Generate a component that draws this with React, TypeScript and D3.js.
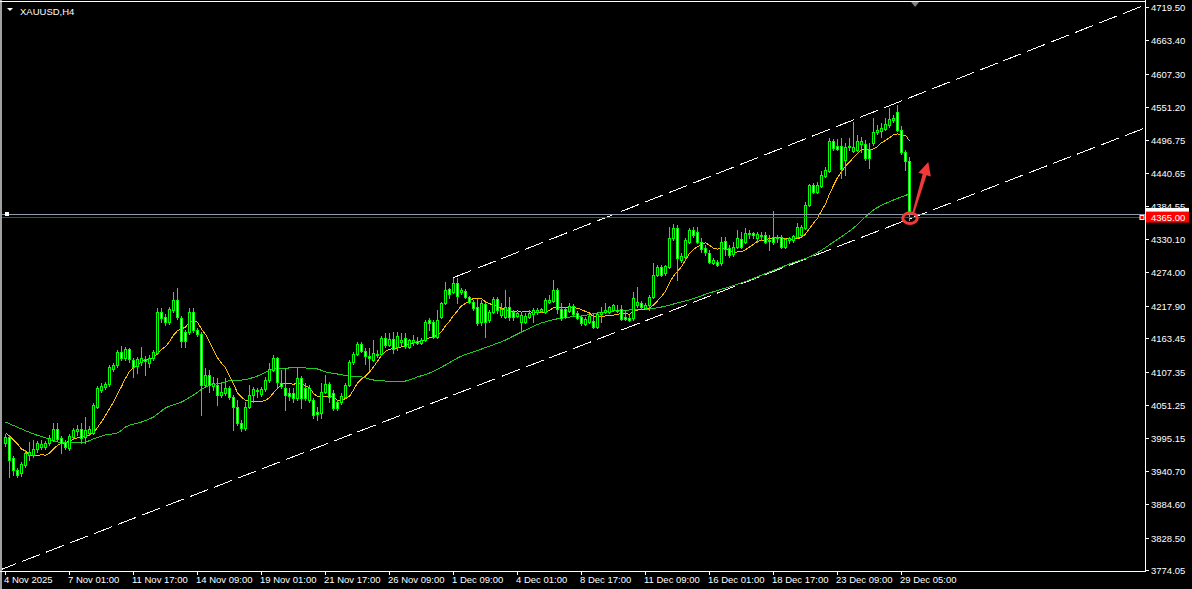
import React from 'react';
import * as d3 from 'd3';

// ---------- DATA (XAUUSD H4) ----------
const opens = [3987,3997,3962,3942,3937,3950,3967,3967,3977,3981,3981,3987,3992,4011,3996,3989,3979,3997,4008,4011,3997,4004,4004,4048,4076,4081,4086,4112,4118,4140,4130,4145,4127,4117,4123,4128,4122,4130,4138,4207,4199,4191,4211,4227,4197,4174,4174,4207,4177,4170,4085,4102,4083,4085,4068,4071,4080,4065,4048,4021,4012,4048,4068,4075,4070,4078,4093,4110,4130,4088,4080,4071,4071,4063,4096,4080,4059,4059,4039,4038,4073,4086,4071,4056,4056,4065,4085,4123,4137,4154,4142,4133,4127,4135,4137,4164,4152,4162,4149,4157,4164,4149,4157,4159,4155,4160,4194,4191,4165,4199,4222,4246,4241,4256,4241,4243,4233,4224,4216,4191,4221,4194,4207,4229,4202,4199,4216,4207,4201,4191,4191,4199,4204,4207,4209,4207,4224,4226,4244,4212,4212,4209,4217,4206,4199,4187,4191,4192,4182,4204,4207,4207,4211,4209,4212,4199,4197,4197,4219,4222,4214,4219,4233,4269,4283,4273,4283,4332,4348,4295,4300,4325,4345,4342,4325,4315,4306,4290,4291,4290,4327,4315,4305,4316,4330,4325,4338,4340,4332,4335,4337,4328,4333,4333,4333,4316,4328,4328,4333,4337,4348,4387,4421,4409,4419,4436,4444,4495,4486,4486,4463,4484,4478,4479,4490,4490,4481,4491,4510,4511,4515,4521,4530,4543,4513,4476,4461];
const highs = [4002,4001,3966,3945,3955,3976,3989,3992,3991,3992,3991,4001,4021,4021,3999,3992,4002,4012,4018,4021,4031,4016,4054,4083,4088,4090,4118,4122,4143,4150,4149,4147,4130,4132,4149,4133,4135,4143,4214,4214,4204,4216,4241,4248,4201,4177,4214,4214,4180,4174,4113,4110,4098,4096,4088,4096,4083,4068,4059,4026,4056,4085,4081,4080,4081,4098,4122,4135,4132,4110,4113,4080,4080,4113,4100,4088,4085,4063,4048,4088,4102,4090,4076,4059,4071,4088,4127,4140,4157,4157,4147,4147,4160,4143,4167,4172,4172,4174,4174,4172,4172,4162,4169,4165,4164,4194,4197,4194,4211,4224,4258,4248,4264,4264,4248,4246,4234,4227,4229,4227,4224,4211,4233,4233,4222,4244,4233,4211,4207,4206,4206,4211,4214,4214,4214,4231,4236,4261,4248,4222,4216,4222,4221,4209,4201,4199,4204,4204,4206,4216,4222,4217,4221,4219,4219,4211,4202,4241,4249,4226,4222,4236,4290,4286,4286,4286,4350,4355,4353,4306,4332,4348,4350,4350,4332,4320,4311,4298,4295,4333,4333,4320,4325,4345,4342,4348,4345,4342,4342,4342,4342,4337,4377,4337,4337,4332,4333,4337,4357,4353,4392,4422,4424,4426,4444,4451,4500,4498,4498,4500,4491,4500,4526,4505,4501,4496,4491,4533,4521,4525,4533,4550,4538,4555,4520,4479,4468];
const lows = [3982,3930,3934,3930,3932,3947,3959,3964,3972,3977,3977,3984,3991,3991,3971,3977,3976,3994,4001,3987,3987,4001,4002,4046,4073,4078,4083,4108,4115,4127,4127,4123,4098,4105,4118,4102,4115,4127,4137,4191,4186,4187,4207,4196,4149,4149,4170,4174,4167,4034,4081,4073,4076,4051,4065,4068,4061,4009,4018,4008,4009,4046,4056,4065,4066,4075,4090,4108,4081,4080,4043,4059,4056,4059,4046,4059,4056,4029,4026,4029,4071,4056,4043,4043,4053,4063,4083,4120,4135,4140,4120,4110,4125,4132,4135,4149,4150,4138,4143,4152,4147,4147,4152,4154,4154,4159,4177,4164,4164,4197,4221,4231,4239,4222,4238,4231,4222,4211,4186,4186,4165,4191,4206,4206,4199,4197,4194,4194,4199,4177,4189,4197,4191,4204,4207,4206,4222,4224,4206,4194,4197,4207,4201,4196,4186,4186,4189,4180,4180,4191,4206,4206,4209,4207,4194,4194,4192,4194,4216,4212,4212,4211,4231,4268,4268,4269,4281,4328,4261,4291,4295,4323,4333,4323,4308,4303,4290,4288,4285,4286,4303,4300,4301,4315,4315,4323,4332,4332,4325,4328,4323,4311,4322,4325,4315,4315,4323,4325,4332,4335,4347,4385,4407,4407,4417,4434,4442,4479,4479,4432,4437,4479,4476,4478,4476,4463,4449,4488,4506,4501,4513,4518,4526,4511,4473,4446,4362];
const closes = [3997,3959,3942,3934,3952,3971,3972,3977,3987,3986,3987,3996,4011,3994,3987,3981,3999,4009,4011,3996,4009,4011,4051,4080,4083,4086,4115,4118,4140,4130,4145,4128,4115,4128,4130,4125,4130,4140,4207,4197,4191,4212,4227,4199,4159,4159,4207,4177,4170,4085,4102,4085,4088,4068,4073,4080,4065,4048,4021,4012,4048,4068,4078,4076,4078,4093,4112,4130,4090,4083,4068,4066,4063,4096,4063,4063,4080,4034,4036,4073,4086,4065,4046,4046,4066,4085,4123,4137,4154,4142,4133,4130,4138,4137,4164,4152,4162,4145,4167,4160,4150,4160,4160,4155,4160,4191,4189,4165,4194,4222,4244,4238,4256,4234,4244,4233,4224,4214,4189,4222,4191,4207,4229,4211,4212,4216,4199,4199,4206,4202,4201,4206,4211,4211,4212,4227,4227,4244,4212,4197,4199,4217,4204,4197,4189,4196,4201,4182,4204,4207,4211,4216,4219,4211,4196,4196,4194,4231,4224,4216,4219,4233,4269,4283,4269,4285,4332,4348,4298,4301,4328,4345,4337,4325,4313,4308,4291,4295,4286,4325,4313,4303,4316,4332,4316,4340,4340,4337,4338,4337,4325,4327,4325,4332,4316,4330,4332,4335,4350,4350,4387,4421,4409,4421,4437,4446,4495,4483,4481,4448,4484,4486,4484,4495,4495,4466,4466,4510,4513,4516,4523,4531,4533,4513,4476,4461,4372];

// fast MA (yellow) = SMA(10) of closes; values for the first bars
const fastMaPeriod = 10;
const fastMaHead = [4004.6, 3999.1, 3992.4, 3985.7, 3977.3, 3973.9, 3967.2, 3966.0, 3966.0];

// slow MA (green)
const slowMaBars = [0,4,7,10,12,15,19,22,25,28,30,34,37,40,44,47,50,54,57,59,63,67,71,75,78,80,83,86,89,92,95,97,100,103,106,110,113,119,125,129,134,139,144,148,152,156,161,164,168,170,176,184,191,196,202,207,212,217,222,226];
const slowMaValues = [4022.6,4010.9,4002.5,3995.8,3990.7,3987.4,3987.4,3994.1,4000.8,4004.2,4014.2,4022.6,4031.0,4046.1,4056.1,4067.9,4081.4,4088.1,4093.1,4093.1,4099.8,4111.6,4113.3,4113.3,4111.6,4106.6,4103.2,4099.8,4098.2,4093.1,4091.4,4089.8,4091.4,4098.2,4104.9,4118.3,4130.1,4145.2,4160.3,4173.7,4188.9,4197.3,4200.6,4205.7,4209.0,4210.7,4212.4,4215.7,4222.5,4225.8,4239.3,4256.1,4274.5,4287.9,4303.0,4324.8,4348.4,4378.6,4395.4,4405.5];

// channel trend lines: [bar, price] anchors
const upperChannel = [[112, 4265.1], [226, 4567.0]];
const lowerChannel = [[0, 3777.7], [226, 4363.7]];

const hLinePrice = 4365.0;
const circleAt = [226, 4365];
const arrowFrom = [227, 4375];
const arrowTo = [230.7, 4459];

const priceTicks = [4719.50,4663.40,4607.30,4551.20,4496.75,4440.65,4384.55,4330.10,4274.00,4217.90,4163.45,4107.35,4051.25,3995.15,3940.70,3884.60,3828.50,3774.05];
const timeTickBars = [0,16,32,48,64,80,96,112,128,144,160,176,192,208,224];
const timeTickLabels = ['4 Nov 2025','7 Nov 01:00','11 Nov 17:00','14 Nov 09:00','19 Nov 01:00','21 Nov 17:00','26 Nov 09:00','1 Dec 09:00','4 Dec 01:00','8 Dec 17:00','11 Dec 09:00','16 Dec 01:00','18 Dec 17:00','23 Dec 09:00','29 Dec 05:00'];
const symbolTitle = 'XAUUSD,H4';

// ---------- LAYOUT ----------
const W = 1192, H = 589;
const PR = 1145; // right edge of plot
const PB = 571;  // bottom edge of plot
const FONT = "'Liberation Sans', Arial, sans-serif";
const LIME = '#00ff00';

export default function App() {
  const n = closes.length;
  const x = d3.scaleLinear().domain([0, n - 1]).range([5.5, 5.5 + 4 * (n - 1)]);
  const y = d3.scaleLinear().domain([3774.05, 4719.5]).range([570, 7]);

  // fast MA
  const fastMa = closes.map((_, i) => {
    if (i < fastMaPeriod - 1) return fastMaHead[i];
    return d3.mean(closes.slice(i - fastMaPeriod + 1, i + 1)) as number;
  });
  const fastLine = d3.line<number>().x((_, i) => x(i)).y(v => y(v));
  const slowLine = d3.line<number>().x((_, i) => x(slowMaBars[i])).y(v => y(v)).curve(d3.curveMonotoneX);

  const extend = (a: number[][], bar: number) => {
    const [b1, p1] = a[0];
    const [b2, p2] = a[1];
    return p1 + (p2 - p1) * (bar - b1) / (b2 - b1);
  };
  const barRight = x.invert(PR + 2);
  const barLeft = x.invert(-2);
  const up0 = upperChannel[0][0];
  const upperPts: [number, number][] = [[x(up0), y(upperChannel[0][1])], [x(barRight), y(extend(upperChannel, barRight))]];
  const lowerPts: [number, number][] = [[x(barLeft), y(extend(lowerChannel, barLeft))], [x(barRight), y(extend(lowerChannel, barRight))]];
  const seg = d3.line();

  const candles = closes.map((c, i) => {
    const o = opens[i], h = highs[i], l = lows[i];
    const col = Math.floor(x(i));
    const yT = Math.round(y(Math.max(o, c)));
    const yB = Math.round(y(Math.min(o, c)));
    const yH = Math.round(y(h));
    const yL = Math.round(y(l));
    const bull = c >= o;
    return (
      <g key={i}>
        <rect x={col} y={yH} width={1} height={yL - yH + 1} fill={LIME} />
        <rect x={col - 1} y={yT} width={3} height={Math.max(1, yB - yT + 1)} fill={LIME} />
        {yB - yT >= 2 && (
          <rect x={col} y={yT + 1} width={1} height={yB - yT - 1} fill={bull ? '#000' : '#fff'} />
        )}
      </g>
    );
  });

  const bid = closes[n - 1];
  const yBid = Math.round(y(bid)) + 0.5;
  const yHl = Math.round(y(hLinePrice)) - 0.5;

  // arrow geometry
  const ax0 = x(arrowFrom[0]), ay0 = y(arrowFrom[1]);
  const ax1 = x(arrowTo[0]), ay1 = y(arrowTo[1]);
  const len = Math.hypot(ax1 - ax0, ay1 - ay0);
  const ux = (ax1 - ax0) / len, uy = (ay1 - ay0) / len;
  const px = -uy, py = ux;
  const headLen = 13, headHalf = 6.5;
  const bx = ax1 - ux * headLen, by = ay1 - uy * headLen;
  const arrowPts: [number, number][] = [
    [ax0 - px * 1, ay0 - py * 1],
    [bx - px * 2, by - py * 2],
    [bx - px * headHalf, by - py * headHalf],
    [ax1, ay1],
    [bx + px * headHalf, by + py * headHalf],
    [bx + px * 2, by + py * 2],
    [ax0 + px * 1, ay0 + py * 1],
  ];

  return (
    <svg width={W} height={H} style={{ position: 'absolute', left: 0, top: 0, background: '#000' }}
      xmlns="http://www.w3.org/2000/svg">
      <defs>
        <clipPath id="plot"><rect x={0} y={0} width={PR} height={PB} /></clipPath>
      </defs>
      <rect x={0} y={0} width={W} height={H} fill="#000" />

      <g clipPath="url(#plot)">
        {/* channel lines */}
        <path d={seg(upperPts) || ''} stroke="#fff" strokeWidth={1} strokeDasharray="19.3,6.4" fill="none" shapeRendering="crispEdges" />
        <path d={seg(lowerPts) || ''} stroke="#fff" strokeWidth={1} strokeDasharray="19.3,6.4" fill="none" shapeRendering="crispEdges" />

        {/* moving averages */}
        <path d={slowLine(slowMaValues) || ''} stroke="#22cc22" strokeWidth={1} fill="none" shapeRendering="crispEdges" />
        <path d={fastLine(fastMa) || ''} stroke="#ffc000" strokeWidth={1} fill="none" shapeRendering="crispEdges" />

        {candles}

        {/* bid line & horizontal line */}
        <line x1={0} x2={PR} y1={yBid} y2={yBid} stroke="#8c9cac" strokeWidth={1} />
        <line x1={0} x2={PR} y1={yHl} y2={yHl} stroke="#ff0000" strokeWidth={1} />
        <rect x={5} y={yBid - 2.5} width={4} height={4} fill="#fff" />
        <rect x={PR - 5} y={yHl - 2} width={4} height={4} fill="#ff0000" stroke="#fff" strokeWidth={1} />

        {/* annotations */}
        <ellipse cx={x(circleAt[0]) + 0.5} cy={y(circleAt[1])} rx={7.3} ry={5.3} fill="none" stroke="#f03a3a" strokeWidth={3} />
        <path d={(d3.line()(arrowPts) || '') + 'Z'} fill="#f03a3a" />
      </g>

      {/* chart shift marker */}
      <path d={`M${x(227.4) - 4},2 L${x(227.4) + 4},2 L${x(227.4)},7 Z`} fill="#808080" />

      {/* frame */}
      <rect x={0} y={0} width={2} height={H} fill="#a0a0a0" />
      <line x1={0} x2={PR} y1={1.5} y2={1.5} stroke="#fff" />
      <line x1={PR + 0.5} x2={PR + 0.5} y1={0} y2={PB + 1} stroke="#fff" />
      <line x1={0} x2={PR + 1} y1={PB + 0.5} y2={PB + 0.5} stroke="#fff" />

      {/* title */}
      <path d="M7,8 L13,8 L10,11 Z" fill="#fff" />
      <text x={20} y={14.5} fill="#fff" fontFamily={FONT} fontSize={9.5}>{symbolTitle}</text>

      {/* price axis */}
      {priceTicks.map(v => {
        const yy = Math.round(y(v)) + 0.5;
        return (
          <g key={v}>
            <line x1={PR} x2={PR + 4} y1={yy} y2={yy} stroke="#fff" />
            <text x={1151} y={yy + 3} fill="#fff" fontFamily={FONT} fontSize={9.5}>{v.toFixed(2)}</text>
          </g>
        );
      })}
      {/* bid label (partly hidden) and line label */}
      <rect x={1146} y={y(bid) - 6} width={43} height={12} fill="#fff" />
      <rect x={1146} y={y(hLinePrice) - 6.5} width={43} height={11} fill="#ff0000" />
      <text x={1151} y={y(hLinePrice) + 3} fill="#fff" fontFamily={FONT} fontSize={9.5}>{hLinePrice.toFixed(2)}</text>

      {/* time axis */}
      {timeTickBars.map((b, k) => {
        const xx = Math.floor(x(b)) + 0.5;
        return (
          <g key={b}>
            <line x1={xx} x2={xx} y1={PB} y2={PB + 4} stroke="#fff" />
            <text x={xx - 1.5} y={583} fill="#fff" fontFamily={FONT} fontSize={9.5}>{timeTickLabels[k]}</text>
          </g>
        );
      })}
    </svg>
  );
}
